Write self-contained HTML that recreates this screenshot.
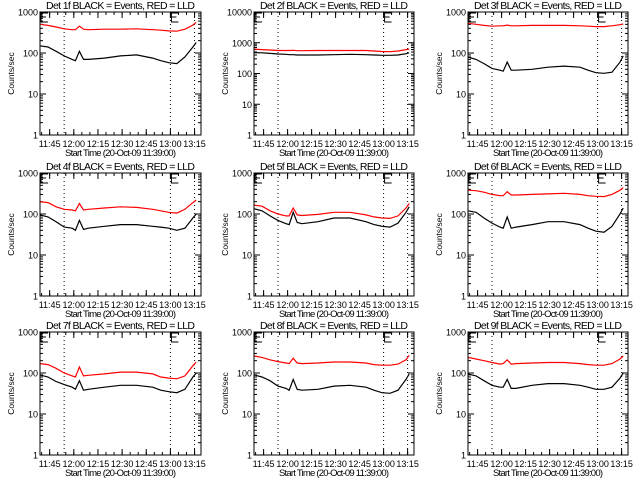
<!DOCTYPE html>
<html><head><meta charset="utf-8"><style>
html,body{margin:0;padding:0;background:#fff;}
svg{display:block;font-family:"Liberation Sans",sans-serif;}
</style></head><body>
<svg id="chart" width="640" height="480" viewBox="0 0 640 480" xmlns="http://www.w3.org/2000/svg"></svg>
<script>
const times = [0,5,10,15,20,22,24.5,27,30,40,50,60,70,75,80,85,90,95,97];
const tickMinutes = [6,21,36,51,66,81,96];
const tickLabels = ["11:45","12:00","12:15","12:30","12:45","13:00","13:15"];
const markerMinutes = [15,81,96];
const panelNames = ["Det 1f","Det 2f","Det 3f","Det 4f","Det 5f","Det 6f","Det 7f","Det 8f","Det 9f"];
const panelDecades = [3,4,3,3,3,3,3,3,3];
const black1 = [150,140,110,85,70,65,110,70,70,75,85,90,75,65,58,55,80,140,180];
const red1   = [500,470,430,390,370,370,450,380,370,380,380,390,370,360,345,340,380,480,560];
const black2 = [480,470,450,430,420,410,410,400,400,400,410,420,410,400,390,390,400,440,470];
const red2   = [620,600,580,560,560,560,570,550,550,560,560,560,560,540,520,510,540,600,620];
const black3 = [80,70,55,42,38,36,60,38,38,40,45,48,45,38,33,32,34,60,85];
const red3   = [530,500,470,450,460,460,480,460,460,470,470,470,460,450,440,440,460,490,510];
const black4 = [95,85,65,48,45,40,70,42,45,50,55,55,50,48,45,40,45,80,100];
const red4   = [200,190,150,130,125,120,180,125,130,140,150,145,130,120,110,105,130,190,220];
const black5 = [135,120,90,70,58,55,110,62,58,65,80,80,65,55,50,48,60,110,150];
const red5   = [165,155,120,100,90,90,140,95,92,98,110,110,95,85,80,78,90,140,180];
const black6 = [120,110,80,60,48,45,85,45,48,55,65,65,55,45,38,36,50,100,140];
const red6   = [380,370,340,300,280,280,350,290,290,300,310,320,300,280,270,265,300,380,440];
const black7 = [90,80,62,52,45,40,65,38,40,45,50,50,45,38,35,33,40,80,100];
const red7   = [170,160,130,100,85,80,140,85,88,95,105,105,95,80,75,72,85,150,185];
const black8 = [90,80,65,48,42,38,70,40,38,40,48,50,45,38,33,32,38,70,95];
const red8   = [260,240,210,190,175,170,230,175,170,175,185,185,175,160,155,155,165,210,270];
const black9 = [95,85,65,50,45,45,70,42,42,50,55,55,50,45,40,40,45,75,100];
const red9   = [240,220,200,180,165,170,210,165,170,175,180,180,170,160,155,155,170,220,260];
const blackSeries = [black1,black2,black3,black4,black5,black6,black7,black8,black9];
const redSeries = [red1,red2,red3,red4,red5,red6,red7,red8,red9];

const svg = document.getElementById('chart');
const NS = 'http://www.w3.org/2000/svg';
const colX = [40,254,468], colW = [161,160,160];
const rowY = [12,173,332], H = 123;
const TMAX = 100;
function mk(tag, attrs, parent){const e=document.createElementNS(NS,tag);for(const k in attrs)e.setAttribute(k,attrs[k]);(parent||svg).appendChild(e);return e;}

for(let p=0;p<9;p++){
  const x0 = colX[p%3], w = colW[p%3], y0 = rowY[Math.floor(p/3)], nd = panelDecades[p];
  const xs = t => x0 + t/TMAX*w;
  const ys = v => y0 + H - Math.log10(v)/nd*H;
  const g = mk('g',{});
  
  
  const title = mk('text',{x:x0+w/2,y:y0-3,'text-anchor':'middle','font-size':'10.5',textLength:w-12},g);
  
  
  title.textContent = panelNames[p]+' BLACK = Events, RED = LLD';
  for(let d=0; d<=nd; d++){
    const y = ys(Math.pow(10,d));
    mk('line',{x1:x0,x2:x0+6,y1:y,y2:y,stroke:'#000'},g);
    mk('line',{x1:x0+w-6,x2:x0+w,y1:y,y2:y,stroke:'#000'},g);
    const lb = mk('text',{x:x0-2,y:y+3.5,'text-anchor':'end','font-size':'9'},g);
    
    
    lb.textContent = String(Math.pow(10,d));
    if(d<nd){for(let m=2;m<10;m++){const ym=ys(m*Math.pow(10,d));
      mk('line',{x1:x0,x2:x0+3,y1:ym,y2:ym,stroke:'#000'},g);
      mk('line',{x1:x0+w-3,x2:x0+w,y1:ym,y2:ym,stroke:'#000'},g);}}
  }
  tickMinutes.forEach((t,i)=>{
    const x = xs(t);
    mk('line',{x1:x,x2:x,y1:y0+H,y2:y0+H-6,stroke:'#000'},g);
    mk('line',{x1:x,x2:x,y1:y0,y2:y0+6,stroke:'#000'},g);
    const lb = mk('text',{x:x,y:y0+H+12,'text-anchor':'middle','font-size':'9'},g);
    
    
    lb.textContent = tickLabels[i];
  });
  for(let t=1;t<TMAX;t+=5){const x=xs(t);
    mk('line',{x1:x,x2:x,y1:y0+H,y2:y0+H-3,stroke:'#000'},g);
    mk('line',{x1:x,x2:x,y1:y0,y2:y0+3,stroke:'#000'},g);}
  const xt = mk('text',{x:x0+w/2,y:y0+H+21,'text-anchor':'middle','font-size':'9.5',textLength:w-50},g);
  
  
  xt.textContent = 'Start Time (20-Oct-09 11:39:00)';
  const yt = mk('text',{x:0,y:0,'text-anchor':'middle','font-size':'8.5',transform:'translate('+(x0-26)+','+(y0+H/2)+') rotate(-90)'},g);
  
  
  yt.textContent = 'Counts/sec';
  markerMinutes.forEach(t=>{const x=xs(t);
    const l=mk('line',{x1:x,x2:x,y1:y0,y2:y0+H,stroke:'#000','stroke-dasharray':'1,3'},g);
    
    });
  [0,81].forEach(t=>{const x=xs(t)+1;
    const e=mk('path',{d:'M'+(x+7)+' '+(y0+1)+' H'+x+' V'+(y0+10)+' H'+(x+7)+' M'+x+' '+(y0+5)+' H'+(x+5),stroke:'#000',fill:'none'},g);
    
    });
  const pts = arr => arr.map((v,i)=>xs(times[i]).toFixed(1)+','+ys(v).toFixed(1)).join(' ');
  const rl = mk('polyline',{points:pts(redSeries[p]),fill:'none',stroke:'#ff0000','stroke-width':'1.2'},g);
  
  
  const bl = mk('polyline',{points:pts(blackSeries[p]),fill:'none',stroke:'#000','stroke-width':'1.2'},g);
  
  
  const fr = mk('rect',{x:x0,y:y0,width:w,height:H,fill:'none',stroke:'#000'},g);
  
  
}
</script>
</body></html>
